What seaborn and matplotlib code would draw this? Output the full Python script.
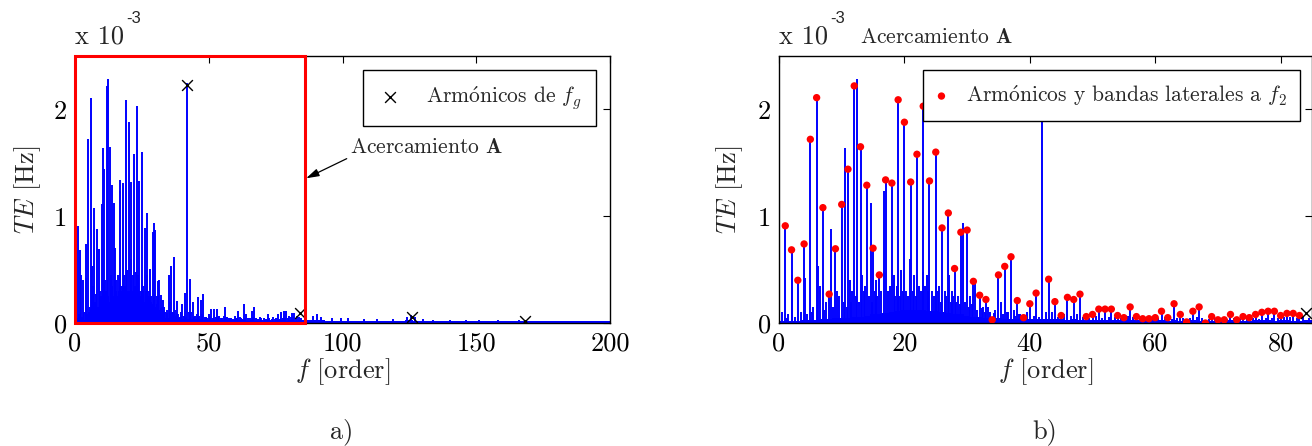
import matplotlib
matplotlib.use("Agg")
import pandas as pd
import matplotlib.pyplot as plt
import seaborn as sns
from matplotlib.patches import Rectangle

# TE amplitudes in units of 1e-3 Hz, frequency in orders

# harmonics and sidebands at f2 (red dots)
f2_orders = list(range(1, 84))
f2_te = [0.91, 0.685, 0.40, 0.74, 1.72, 2.11, 1.08, 0.27, 0.695, 1.11,
         1.44, 2.22, 1.65, 1.29, 0.70, 0.45, 1.34, 1.31, 2.09, 1.88,
         1.32, 1.58, 2.03, 1.33, 1.60, 0.89, 1.03, 0.51, 0.85, 0.87,
         0.39, 0.26, 0.22, 0.03, 0.45, 0.53, 0.62, 0.21, 0.05, 0.18,
         0.28, 2.25, 0.41, 0.20, 0.07, 0.24, 0.22, 0.27, 0.06, 0.08,
         0.13, 0.13, 0.13, 0.07, 0.05, 0.15, 0.06, 0.04, 0.04, 0.05,
         0.11, 0.05, 0.18, 0.08, 0.01, 0.11, 0.15, 0.00, 0.06, 0.03,
         0.03, 0.08, 0.03, 0.06, 0.05, 0.08, 0.10, 0.11, 0.11, 0.07,
         0.09, 0.09, 0.07]

# other lines of the spectrum (no marker)
f1_orders = [2.1, 4.15, 6.25, 8.35, 10.45, 12.5, 14.6, 16.7, 18.75, 20.85,
             22.9, 25.05, 27.1, 29.4, 31.3, 33.4, 35.4, 37.5, 39.6]
f1_te = [0.45, 0.42, 0.53, 0.88, 1.64, 2.28, 1.12, 1.24, 0.35, 0.60,
         0.48, 0.40, 0.45, 0.94, 0.40, 0.15, 0.20, 0.12, 0.10]

noise_orders = [0.5, 1.2, 1.5, 2.5, 3.5, 4.5, 5.2, 5.5, 6.6, 7.2,
                7.5, 8.6, 9.3, 9.6, 10.3, 10.8, 11.3, 11.5, 11.7, 12.3,
                12.8, 13.3, 13.5, 13.7, 14.3, 14.8, 15.3, 15.5, 15.7, 16.3,
                17.4, 17.7, 18.3, 18.5, 18.9, 19.3, 19.5, 19.8, 20.3, 20.6,
                21.3, 21.5, 21.8, 22.4, 22.6, 23.3, 23.6, 23.8, 24.4, 24.7,
                25.3, 25.5, 25.8, 26.4, 26.6, 27.4, 27.6, 27.8, 28.3, 28.5,
                28.8, 29.7, 30.3, 30.5, 30.8, 31.6, 32.3, 32.5, 32.8, 33.6,
                34.3, 34.5, 35.7, 36.3, 36.5, 37.7, 38.3, 38.5, 39.4, 40.6,
                41.5, 42.5, 43.5, 44.5, 45.5, 46.5, 47.6, 48.5, 49.5, 50.5,
                51.5, 52.6, 53.6, 54.5, 55.6, 56.5, 57.6, 58.5, 59.7, 60.5,
                61.6, 62.6, 63.5, 64.5, 65.6, 66.7, 67.5, 68.5, 69.6, 70.5,
                71.5, 72.6, 73.5, 74.6, 75.6, 76.6, 77.6, 78.6, 79.5, 80.6,
                81.5, 82.6, 83.6, 84.6, 86.5, 89.0, 90.5, 92.0, 96.0, 99.5,
                102.0, 108.0, 113.0, 119.0, 124.0, 125.5, 127.0, 130.0, 134.0, 140.0,
                146.0, 151.0, 158.0, 166.0, 175.0, 185.0, 195.0]
noise_te = [0.10, 0.05, 0.08, 0.06, 0.10, 0.08, 0.10, 0.15, 0.35, 0.12,
            0.20, 0.15, 0.30, 0.25, 0.20, 0.15, 0.40, 0.20, 0.30, 0.25,
            0.20, 0.45, 0.30, 0.35, 0.25, 0.20, 0.30, 0.40, 0.25, 0.30,
            0.30, 0.35, 0.45, 0.25, 0.30, 0.25, 0.50, 0.30, 0.30, 0.25,
            0.30, 0.45, 0.25, 0.35, 0.30, 0.35, 0.45, 0.30, 0.30, 0.25,
            0.30, 0.35, 0.20, 0.30, 0.25, 0.20, 0.30, 0.25, 0.20, 0.25,
            0.18, 0.20, 0.15, 0.25, 0.18, 0.12, 0.14, 0.15, 0.10, 0.10,
            0.09, 0.12, 0.08, 0.10, 0.10, 0.07, 0.08, 0.08, 0.06, 0.07,
            0.06, 0.10, 0.10, 0.06, 0.08, 0.07, 0.08, 0.06, 0.05, 0.07,
            0.05, 0.06, 0.06, 0.05, 0.07, 0.06, 0.05, 0.05, 0.07, 0.05,
            0.06, 0.04, 0.05, 0.05, 0.05, 0.06, 0.05, 0.04, 0.05, 0.05,
            0.04, 0.05, 0.04, 0.04, 0.05, 0.04, 0.05, 0.05, 0.05, 0.06,
            0.06, 0.05, 0.06, 0.05, 0.07, 0.07, 0.08, 0.06, 0.05, 0.045,
            0.05, 0.04, 0.035, 0.04, 0.06, 0.075, 0.06, 0.035, 0.03, 0.03,
            0.025, 0.03, 0.025, 0.03, 0.02, 0.02, 0.02]

# noise floor, one value per order 0..200
floor_orders = list(range(0, 201))
floor_te = [0.02, 0.02, 0.02, 0.02, 0.03, 0.03, 0.03, 0.04, 0.04, 0.05,
            0.05, 0.05, 0.06, 0.06, 0.07, 0.08, 0.08, 0.09, 0.10, 0.11,
            0.12, 0.12, 0.12, 0.12, 0.11, 0.11, 0.10, 0.09, 0.08, 0.08,
            0.07, 0.06, 0.06, 0.05, 0.05, 0.05, 0.04, 0.04, 0.04, 0.04,
            0.04, 0.04, 0.04, 0.04, 0.04, 0.04, 0.03, 0.04, 0.03, 0.03,
            0.03, 0.03, 0.03, 0.03, 0.03, 0.03, 0.03, 0.03, 0.02, 0.03,
            0.03, 0.03, 0.02, 0.03, 0.02, 0.02, 0.03, 0.02, 0.02, 0.02,
            0.02, 0.02, 0.03, 0.02, 0.02, 0.02, 0.03, 0.03, 0.03, 0.02,
            0.03, 0.03, 0.02, 0.02, 0.03, 0.03, 0.03, 0.03, 0.03, 0.03,
            0.03, 0.03, 0.03, 0.03, 0.02, 0.02, 0.02, 0.02, 0.02, 0.02,
            0.02, 0.02, 0.02, 0.02, 0.02, 0.02, 0.02, 0.02, 0.02, 0.02,
            0.02, 0.02, 0.02, 0.02, 0.02, 0.02, 0.02, 0.02, 0.02, 0.02,
            0.02, 0.02, 0.02, 0.02, 0.03, 0.03, 0.03, 0.02, 0.02, 0.02,
            0.015, 0.02, 0.015, 0.015, 0.02, 0.015, 0.015, 0.015, 0.02, 0.015,
            0.015, 0.015, 0.02, 0.015, 0.015, 0.015, 0.015, 0.02, 0.015, 0.015,
            0.015, 0.02, 0.015, 0.015, 0.015, 0.015, 0.015, 0.02, 0.015, 0.015,
            0.015, 0.015, 0.02, 0.015, 0.015, 0.015, 0.015, 0.015, 0.02, 0.015,
            0.015, 0.015, 0.015, 0.02, 0.015, 0.015, 0.015, 0.015, 0.015, 0.015,
            0.015, 0.02, 0.015, 0.015, 0.015, 0.015, 0.015, 0.015, 0.02, 0.015,
            0.015, 0.015, 0.015, 0.015, 0.015, 0.02, 0.015, 0.015, 0.015, 0.015,
            0.015]

# harmonics of fg (black crosses)
fg_orders = [42.05, 84.1, 126.15, 168.2]
fg_te = [2.23, 0.09, 0.055, 0.02]

left_xticks = [0, 50, 100, 150, 200]
right_xticks = [0, 20, 40, 60, 80]
yticks = [0, 1, 2]

BLUE = "#0000ff"
RED = "#ff0000"

sns.set_theme(style="white")
plt.rcParams["font.family"] = ["cmr10", "DejaVu Serif"]
plt.rcParams["mathtext.fontset"] = "cm"
plt.rcParams["axes.unicode_minus"] = False

lines = pd.DataFrame({"order": f2_orders + f1_orders + noise_orders,
                      "te": f2_te + f1_te + noise_te})
dots = pd.DataFrame({"order": f2_orders, "te": f2_te})
crosses = pd.DataFrame({"order": fg_orders, "te": fg_te})

W, H = 1312, 446
fig = plt.figure(figsize=(W / 100, H / 100), dpi=100)
ax1 = fig.add_axes([75 / W, 1 - 323 / H, 535 / W, 267 / H])
ax2 = fig.add_axes([779 / W, 1 - 323 / H, 533 / W, 267 / H])


def spectrum(ax):
    ax.fill_between(floor_orders, 0, floor_te, step="mid", color=BLUE, lw=0, zorder=2)
    ax.vlines(lines["order"], 0, lines["te"], color=BLUE, lw=1.4, zorder=2)


def style(ax, xlim, xticks, xlabel_y, ylabel_x):
    ax.set_xlim(*xlim)
    ax.set_ylim(0, 2.5)
    ax.set_xticks(xticks, labels=[str(t) for t in xticks])
    ax.set_yticks(yticks, labels=[str(t) for t in yticks])
    ax.tick_params(direction="in", length=5, width=0.8, top=True, right=True,
                   labelsize=19, colors="black", pad=6)
    for s in ax.spines.values():
        s.set_color("black")
        s.set_linewidth(1.0)
    ax.set_xlabel("$f$ [order]", fontsize=19)
    ax.set_ylabel("$TE$ [Hz]", fontsize=19)
    ax.xaxis.set_label_coords(0.5, xlabel_y)
    ax.xaxis.label.set_va("center")
    ax.yaxis.set_label_coords(ylabel_x, 0.5)
    ax.yaxis.label.set_va("center")


# a) full spectrum
spectrum(ax1)
sns.scatterplot(data=crosses, x="order", y="te", ax=ax1, marker="x", s=60,
                color="black", linewidth=1.0, zorder=4,
                label=r"Arm$\acute{\rm o}$nicos de $f_g$")
ax1.add_patch(Rectangle((0, 0), 86, 2.5, fill=False, edgecolor=RED, lw=2.2,
                        clip_on=False, zorder=6))
ax1.annotate(r"Acercamiento $\mathbf{A}$", xy=(86.4, 1.355), xytext=(102.8, 1.645),
             fontsize=15.5, ha="left", va="center",
             arrowprops=dict(arrowstyle="-|>,head_length=0.5,head_width=0.15",
                             color="black", lw=0.9, relpos=(0.0, 0.0),
                             shrinkA=0, shrinkB=0))
style(ax1, (0, 200), left_xticks, -0.183, -0.088)
leg1 = ax1.legend(loc="upper right", bbox_to_anchor=(0.974, 0.948), borderaxespad=0,
                  fontsize=15.5, fancybox=False, framealpha=1, edgecolor="black",
                  handlelength=1.2, handletextpad=1.1, borderpad=0.65, markerscale=1.0)
leg1.get_frame().set_linewidth(1.0)
leg1.set_zorder(7)

# b) zoom A
spectrum(ax2)
sns.scatterplot(data=dots, x="order", y="te", ax=ax2, s=28, color=RED,
                edgecolor="none", zorder=3,
                label=r"Arm$\acute{\rm o}$nicos y bandas laterales a $f_2$")
sns.scatterplot(data=crosses, x="order", y="te", ax=ax2, marker="x", s=60,
                color="black", linewidth=1.0, zorder=4, legend=False)
style(ax2, (0, 85), right_xticks, -0.183, -0.092)
leg2 = ax2.legend(loc="upper right", bbox_to_anchor=(0.9775, 0.948), borderaxespad=0,
                  fontsize=15.5, fancybox=False, framealpha=1, edgecolor="black",
                  handlelength=0.5, handletextpad=0.9, borderpad=0.6)
leg2.get_frame().set_linewidth(1.0)
leg2.set_zorder(7)

# exponent labels and captions
for x0 in (75, 779):
    fig.text(x0 / W, 1 - 43 / H, "x 10", fontsize=19, ha="left", va="baseline")
    fig.text((x0 + 51) / W, 1 - 23 / H, "-3", fontsize=12, ha="left", va="baseline",
             family="Liberation Sans")
fig.text(860 / W, 1 - 43 / H, r"Acercamiento $\mathbf{A}$", fontsize=15.5,
         ha="left", va="baseline")
fig.text(342 / W, 1 - 432 / H, "a)", fontsize=19, ha="center", va="center")
fig.text(1045 / W, 1 - 432 / H, "b)", fontsize=19, ha="center", va="center")

fig.savefig("out.png", dpi=100)
